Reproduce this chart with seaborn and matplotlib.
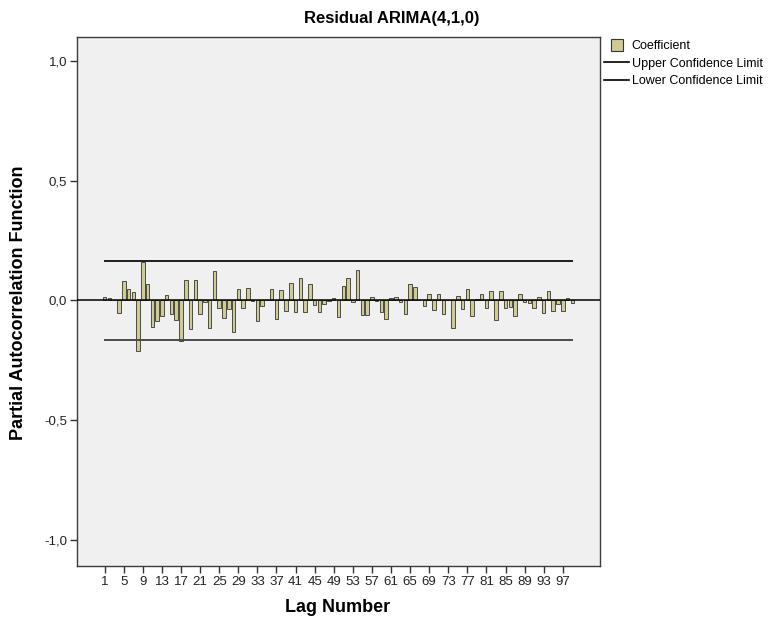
import numpy as np
import pandas as pd
import matplotlib
matplotlib.use('Agg')
import matplotlib.pyplot as plt
import seaborn as sns
from matplotlib.lines import Line2D

# ---- data ----
lags = list(range(1, 100))
pacf = [
    0.015, 0.010, 0.003, -0.055, 0.080, 0.049, 0.036, -0.210, 0.160, 0.067,
    -0.112, -0.088, -0.067, 0.021, -0.056, -0.084, -0.170, 0.085, -0.120, 0.083,
    -0.056, -0.007, -0.114, 0.123, -0.033, -0.072, -0.036, -0.134, 0.049, -0.031,
    0.053, -0.003, -0.086, -0.024, 0.003, 0.046, -0.078, 0.043, -0.046, 0.074,
    -0.047, 0.092, -0.047, 0.070, -0.021, -0.047, -0.017, -0.004, 0.008, -0.070,
    0.060, 0.092, -0.005, 0.128, -0.061, -0.061, 0.014, -0.002, -0.049, -0.079,
    0.011, 0.013, -0.007, -0.056, 0.070, 0.055, 0.003, -0.022, 0.025, -0.040,
    0.028, -0.056, 0.002, -0.117, 0.018, -0.038, 0.048, -0.064, 0.007, 0.028,
    -0.031, 0.040, -0.084, 0.038, -0.032, -0.026, -0.065, 0.025, -0.007, -0.010,
    -0.034, 0.012, -0.053, 0.039, -0.045, -0.017, -0.045, 0.008, -0.013,
]
conf_limit = 0.166
tick_lags = list(range(1, 100, 4))
ytick_vals = [-1.0, -0.5, 0.0, 0.5, 1.0]
ytick_labels = ['-1,0', '-0,5', '0,0', '0,5', '1,0']
legend_labels = ['Coefficient', 'Upper Confidence Limit', 'Lower Confidence Limit']

bar_color = '#cfcb93'
edge_color = '#353535'

plt.rcParams['font.family'] = ['Liberation Sans', 'DejaVu Sans']

W, H = 783, 626
fig = plt.figure(figsize=(W / 100, H / 100), dpi=100)
fig.patch.set_facecolor('white')
ax = fig.add_axes([77 / W, 1 - 566 / H, (600 - 77) / W, (566 - 37) / H])
ax.set_facecolor('#f0f0f0')

df = pd.DataFrame({'Lag': lags, 'Coefficient': pacf})
sns.barplot(data=df, x='Lag', y='Coefficient', color=bar_color, saturation=1,
            edgecolor=edge_color, linewidth=0.6, width=0.74, ax=ax, zorder=3)

n = len(lags)
ax.axhline(0, color='black', lw=1.1, zorder=4)
ax.plot([0, n - 1], [conf_limit, conf_limit], color='#1e1e1e', lw=1.4, zorder=4)
ax.plot([0, n - 1], [-conf_limit, -conf_limit], color='#4a4a4a', lw=1.4, zorder=4)

ax.set_xlim(-5.8, n - 1 + 5.8)
ax.set_ylim(-1.11, 1.10)
ax.set_xticks([lags.index(l) for l in tick_lags])
ax.set_xticklabels([str(l) for l in tick_lags])
ax.set_yticks(ytick_vals)
ax.set_yticklabels(ytick_labels)
ax.tick_params(axis='both', direction='out', length=5, width=1, color='#333333',
               labelsize=9.5, labelcolor='#222222', pad=2)
ax.set_xlabel('')
ax.set_ylabel('')
for s in ax.spines.values():
    s.set_color('#3c3c3c')
    s.set_linewidth(1.0)
ax.grid(False)

fig.text(0.5, 1 - 18 / H, 'Residual ARIMA(4,1,0)', ha='center', va='center',
         fontsize=12, fontweight='bold')
fig.text(19 / W, 1 - 303 / H, 'Partial Autocorrelation Function', ha='center',
         va='center', rotation=90, fontsize=13, fontweight='bold')
fig.text(338 / W, 1 - 608 / H, 'Lag Number', ha='center', va='center',
         fontsize=13, fontweight='bold')

handles = [
    Line2D([], [], marker='s', markersize=9, markerfacecolor=bar_color,
           markeredgecolor=edge_color, markeredgewidth=0.8, linestyle='None'),
    Line2D([], [], color='black', lw=1.2),
    Line2D([], [], color='black', lw=1.2),
]
fig.legend(handles=handles, labels=legend_labels, loc='upper left',
           bbox_to_anchor=(604 / W, 1 - 40 / H), frameon=False, fontsize=9,
           handlelength=2.0, handletextpad=0.2, labelspacing=0.45,
           borderpad=0, borderaxespad=0)

fig.savefig('out.png', dpi=100)
